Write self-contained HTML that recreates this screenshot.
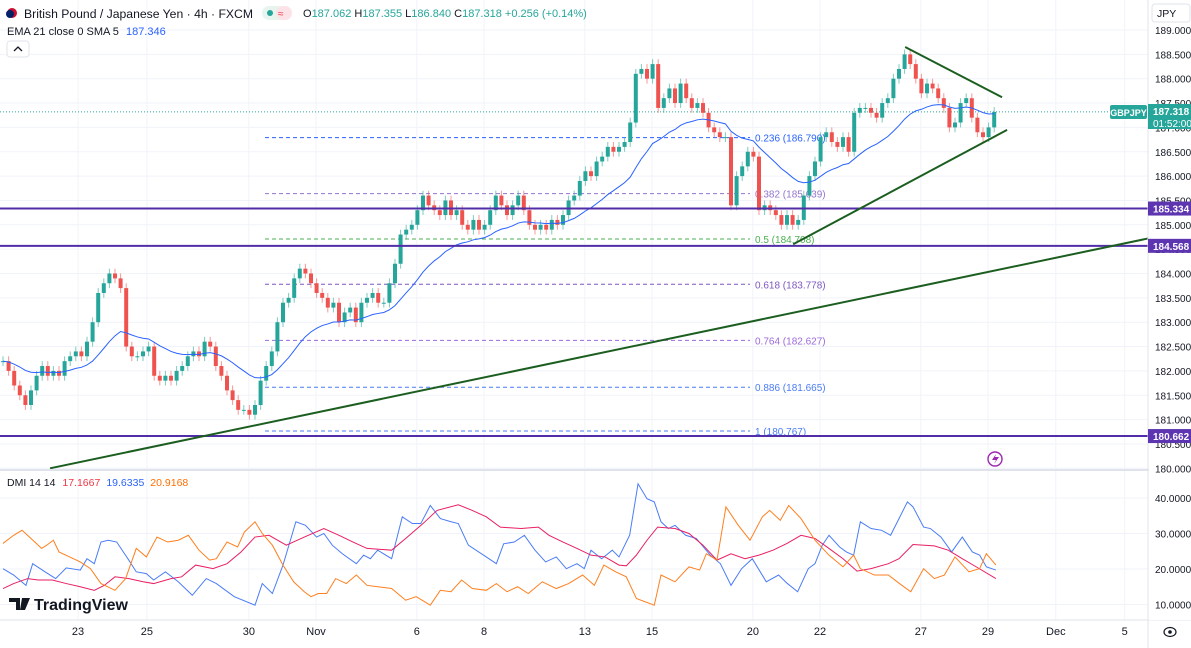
<!DOCTYPE html>
<html><head><meta charset="utf-8"><style>
body{margin:0;width:1191px;height:648px;overflow:hidden;background:#fff;font-family:"Liberation Sans",sans-serif;}
svg{position:absolute;left:0;top:0}
</style></head><body>
<svg id="c" width="1191" height="648" font-family="Liberation Sans, sans-serif"></svg>
<script>
// price closes, one per 4h bar
const closes=[182.2,182.0,181.7,181.5,181.3,181.6,181.9,182.1,181.9,182.0,181.9,182.2,182.3,182.4,182.3,182.6,183.0,183.6,183.8,184.0,183.9,183.7,182.5,182.3,182.3,182.4,182.5,181.9,181.8,181.9,181.8,182.0,182.1,182.3,182.4,182.3,182.6,182.5,182.1,181.9,181.6,181.4,181.2,181.2,181.1,181.3,181.8,182.1,182.4,183.0,183.4,183.5,183.9,184.1,184.0,183.8,183.6,183.5,183.3,183.4,183.0,183.2,183.3,183.0,183.4,183.5,183.6,183.4,183.4,183.8,184.2,184.8,184.9,185.0,185.3,185.6,185.4,185.3,185.2,185.5,185.2,185.3,185.0,184.9,185.1,184.9,185.0,185.3,185.6,185.4,185.2,185.4,185.6,185.3,185.0,184.9,185.0,184.9,185.1,185.0,185.2,185.5,185.6,185.9,186.1,186.0,186.3,186.4,186.6,186.5,186.6,186.7,187.1,188.1,188.2,188.0,188.3,187.4,187.6,187.8,187.5,187.9,187.6,187.4,187.5,187.3,187.0,186.9,186.8,186.8,185.4,186.0,186.2,186.5,186.4,185.3,185.4,185.3,185.2,185.0,185.2,185.0,185.1,185.6,186.0,186.3,186.8,186.9,186.7,186.6,186.8,186.5,187.3,187.4,187.4,187.3,187.2,187.5,187.6,188.0,188.2,188.5,188.3,188.0,187.7,187.9,187.8,187.6,187.4,187.0,187.1,187.5,187.6,187.2,186.9,186.8,187.0,187.318];
const priceTicks=[189,188.5,188,187.5,187,186.5,186,185.5,185,184.5,184,183.5,183,182.5,182,181.5,181,180.5,180];
const fibLevels=[0.236,0.382,0.5,0.618,0.764,0.886,1];
const fibPrices=[186.790,185.639,184.708,183.778,182.627,181.665,180.767];
const hLines=[185.334,184.568,180.662];
const dmiTicks=[40,30,20,10];
const dateLabels=["23","25","30","Nov","6","8","13","15","20","22","27","29","Dec","5"];
const dateBars=[13.4,25.7,43.9,55.9,73.9,85.9,103.9,115.9,133.9,145.9,163.9,175.9,188,200.3];
// DMI [bar, value]
const plusDI=[[0,20.1],[1.9,18.3],[4.1,15.4],[5.3,21.5],[7.5,19.2],[9.4,17.3],[11.3,20.3],[13.8,19.7],[15,22.9],[16.3,21.5],[17.5,27.6],[18.8,28.1],[20.3,27.6],[22.3,22.9],[23.8,19.2],[25.6,18.7],[26.9,16.9],[29,19.2],[31.3,16.4],[33.8,12.6],[36.3,17.3],[38.1,15.9],[41.3,12.2],[45,9.8],[46.3,15.9],[48.1,13.1],[50,21.1],[52.3,33.3],[54,32.3],[56,29],[57.3,30],[58.8,26.7],[60.6,24.3],[63.1,21.5],[64.4,23.9],[65.6,22.9],[66.9,25.3],[69.4,22.9],[71.3,34.7],[73.1,32.8],[74.6,32.8],[76.3,37.9],[78.1,34.2],[80,33.3],[81.3,32.8],[83.1,26.7],[86.3,23.4],[88.1,21.5],[89.4,27.1],[91.3,27.6],[93.1,29.5],[95,25.3],[96.9,22],[98.8,23.4],[100.6,20.1],[102.5,21.5],[103.8,20.1],[105,25.3],[106.9,22.9],[108.8,25.3],[110,23.4],[111.9,29.5],[113.4,44],[115,39.8],[116.3,38.9],[117.5,33.3],[118.8,31.4],[120,32.3],[121.9,29.5],[123.8,28.6],[126.3,23.9],[128.1,21.5],[130,15.4],[131.9,20.1],[133.8,22.9],[136.3,16.4],[138.5,18.3],[140,16],[141.9,13.6],[143.8,20.1],[145,21.5],[146.3,26.7],[147.5,29.5],[149.4,26.2],[150.6,24.8],[151.9,23.9],[153.1,33.3],[155,31.4],[156.9,30.9],[158.5,29.5],[160,34.2],[161.5,38.9],[162.5,37.5],[164.4,31.8],[165.6,31.4],[167.5,29],[169.4,24.8],[171.3,29],[173.1,24.8],[174.4,23.9],[175.6,20.6],[177.3,19.7]];
const adx=[[0,14.5],[1.9,15.9],[4.4,17.3],[6.3,16.9],[8.8,16.9],[11.3,15.9],[13.8,15],[16.3,14],[18.1,15.4],[20,17.8],[22.5,17.3],[25,16.4],[26.9,15.9],[30,17.3],[31.9,17.8],[34.4,21.1],[37.5,20.1],[40,21.5],[42.5,24.8],[45,29],[47.5,29.5],[50.6,26.7],[53.8,29],[57.3,31.4],[60,29.5],[62.5,27.6],[65,25.8],[69.4,25.3],[71.9,28.6],[75,32.8],[77.5,36.5],[81.3,38.1],[83.8,36.5],[86.3,34.7],[88.8,31.8],[92.5,31.4],[95.6,31.8],[97.5,29.5],[100,27.6],[102.5,25.8],[105,23.9],[107.5,23.4],[110,21.1],[111.3,20.9],[113.1,23.9],[115,28.1],[116.9,31.8],[120,31.4],[122.5,30],[125,26.7],[127.5,22.5],[130,24.3],[132.5,22.9],[135,23.9],[137.5,25.3],[140,27.2],[142.5,29.5],[145,28.6],[147.5,25.8],[150,22.9],[152.5,19.4],[155,20.1],[158.1,21.5],[160,22.9],[162.5,26.9],[166.3,26.5],[168.8,25.3],[171.3,22.9],[173.8,20.6],[177.3,17.3]];
const minusDI=[[0,27.2],[1.9,29.5],[3.4,30.9],[5,28.6],[6.9,25.8],[7.8,26.7],[9,28.1],[10,24.8],[11.9,23.4],[13.8,22],[15.6,20.1],[17.5,15.9],[20,14],[21.9,17.3],[23.8,25.8],[25.6,23.4],[27.5,29],[29.4,27.6],[31.3,28.1],[33.1,29.5],[35,25.3],[36.9,22.5],[38.1,22.9],[40,27.6],[41.9,26.2],[43.1,30.4],[45,33.3],[46.3,30],[48.1,26.7],[50,21.1],[51.9,16.4],[53.8,13.6],[55,12.2],[56.3,13.1],[57.8,13.1],[59.4,17.3],[61.3,15.9],[63.1,18.3],[65,15.4],[66.9,15],[69.4,14.5],[71.9,11.2],[73.8,12.2],[76.3,9.8],[78.1,14],[80,13.6],[81.9,16.9],[83.8,14.5],[86.3,14],[88.1,15.9],[90,13.6],[91.9,15],[93.8,13.1],[96.3,16.4],[98.8,14.5],[101,15.9],[103.5,18.3],[105.6,15.4],[107.3,21.1],[109.4,19.2],[111.3,17.8],[113.1,11.7],[116.3,9.8],[117.5,18.3],[120,16.4],[122.5,20.6],[124.4,19.7],[125.6,24.3],[127.5,22.5],[129.1,37.5],[131.3,32.3],[133.4,28.1],[135.6,34.7],[136.9,36.5],[138.8,33.7],[140.3,37.9],[142.5,34.2],[145,28.1],[147.5,23.9],[150,20.6],[151.9,23.9],[153.1,20.1],[155.6,18.3],[158.1,18.3],[160,16],[162.1,13.6],[164.4,20.1],[166.3,17.3],[168.1,18.3],[170,23.4],[172.5,19.2],[174.4,20.1],[175.6,24.3],[177.3,21.1]];
// trendlines [bar, price]
const trendA=[[8.4,180.0],[204.5,184.72]];
const trendB=[[141.1,184.6],[179.3,186.95]];
const trendC=[[161.1,188.65],[178.4,187.62]];

const S=document.getElementById('c');const NS='http://www.w3.org/2000/svg';
function el(t,a,p){const e=document.createElementNS(NS,t);for(const k in a)e.setAttribute(k,a[k]);(p||S).appendChild(e);return e;}
const X=b=>3+b*5.6;
const Y=p=>30+(189-p)*48.7;
const YD=v=>498+(40-v)*3.55;
const R=1148;
dateBars.forEach(b=>{const g=el('line',{x1:X(b),x2:X(b),y1:0,y2:620,stroke:'#f0f3fa'});});
priceTicks.forEach(p=>{const g=el('line',{x1:0,x2:R,y1:Y(p),y2:Y(p),stroke:'#f0f3fa'});});
dmiTicks.forEach(v=>{const g=el('line',{x1:0,x2:R,y1:YD(v),y2:YD(v),stroke:'#f0f3fa'});});
const fibCol=['#2962ff','#9575cd','#4caf50','#7e57c2','#9c6ade','#4a7cf7','#4a7cf7'];
fibLevels.forEach((f,i)=>{const y=Y(fibPrices[i]);
const l=el('line',{x1:265,x2:750,y1:y,y2:y,stroke:fibCol[i],'stroke-dasharray':'4 3','stroke-width':1});
const t=el('text',{x:755,y:y+4,'font-size':10,fill:fibCol[i]});t.textContent=f+' ('+fibPrices[i].toFixed(3)+')';});
{const y=Y(closes[closes.length-1]);const l=el('line',{x1:0,x2:R,y1:y,y2:y,stroke:'#26a69a','stroke-dasharray':'1 2'});}
closes.forEach((c,i)=>{const o=i?closes[i-1]:c;const up=c>=o;const col=up?'#26a69a':'#ef5350';const x=X(i);
const hi=Math.max(o,c)+0.1,lo=Math.min(o,c)-0.1;
const w=el('line',{x1:x,x2:x,y1:Y(hi),y2:Y(lo),stroke:col,'stroke-opacity':0.6});
const b=el('rect',{x:x-2,y:Y(Math.max(o,c)),width:4,height:Math.max(1,Math.abs(Y(o)-Y(c))),fill:col});});
{let e=closes[0];const k=2/22;const pts=closes.map((c,i)=>{e=i?c*k+e*(1-k):c;return X(i)+','+Y(e);});const p=el('polyline',{points:pts.join(' '),fill:'none',stroke:'#2962ff','stroke-width':1});}
hLines.forEach(h=>{const l=el('line',{x1:0,x2:R,y1:Y(h),y2:Y(h),stroke:'#512da8','stroke-width':2});});
[trendA,trendB,trendC].forEach(t=>{const l=el('line',{x1:X(t[0][0]),y1:Y(t[0][1]),x2:X(t[1][0]),y2:Y(t[1][1]),stroke:'#1b5e20','stroke-width':2});});
[[plusDI,'#4a7cf7','dmi-plus-line'],[adx,'#e91e63','adx-line'],[minusDI,'#ff7f1e','dmi-minus-line']].forEach(([d,c,n])=>{const p=el('polyline',{points:d.map(q=>X(q[0])+','+YD(q[1])).join(' '),fill:'none',stroke:c,'stroke-width':1});});
el('line',{x1:0,x2:1191,y1:470,y2:470,stroke:'#e0e3eb','stroke-width':2});
el('line',{x1:0,x2:1191,y1:620,y2:620,stroke:'#e0e3eb'});
el('line',{x1:R,x2:R,y1:0,y2:648,stroke:'#e0e3eb'});
el('rect',{x:R+1,y:0,width:42,height:620,fill:'#fff'});
priceTicks.forEach(p=>{const t=el('text',{x:1155,y:Y(p)+4,'font-size':10,fill:'#131722'});t.textContent=p.toFixed(3);});
dmiTicks.forEach(v=>{const t=el('text',{x:1155,y:YD(v)+4,'font-size':10,fill:'#131722'});t.textContent=v.toFixed(4);});
dateLabels.forEach((d,i)=>{const t=el('text',{x:X(dateBars[i]),y:635,'font-size':11,fill:'#131722','text-anchor':'middle'});t.textContent=d;});
hLines.forEach(h=>{const r=el('rect',{x:R,y:Y(h)-7,width:43,height:14,fill:'#5e35b1'});const t=el('text',{x:1153,y:Y(h)+4,'font-size':10,fill:'#fff','font-weight':'bold'});t.textContent=h.toFixed(3);});
</script>
<svg width="1191" height="648" style="pointer-events:none" font-family="Liberation Sans, sans-serif">
<g>
<rect x="1110" y="105" width="37" height="14" fill="#26a69a" rx="2"/><text x="1128.5" y="116" font-size="9" fill="#fff" text-anchor="middle" font-weight="bold">GBPJPY</text>
<rect x="1148" y="104" width="43" height="25" fill="#26a69a"/><text x="1153" y="115" font-size="10" fill="#fff" font-weight="bold">187.318</text><text x="1153" y="127" font-size="10" fill="#fff">01:52:00</text></g>
<g><rect x="1152" y="4" width="38" height="18" fill="#fff" stroke="#e0e3eb" rx="3"/><text x="1157" y="17" font-size="10.5" fill="#131722">JPY</text></g>
<g>
<circle cx="12" cy="13" r="5" fill="#c8102e"/><circle cx="10" cy="14" r="4" fill="#012169"/>
<text x="24" y="18" font-size="12.2" fill="#131722">British Pound / Japanese Yen · 4h · FXCM</text></g>
<g><rect x="262" y="6" width="30" height="14" rx="7" fill="#e8f5ef"/><circle cx="270" cy="13" r="3" fill="#26a69a"/><rect x="276" y="6" width="16" height="14" rx="7" fill="#fde3e8"/><text x="278" y="17" font-size="10" fill="#f23645">≈</text></g>
<text x="303" y="17" font-size="11" fill="#26a69a"><tspan fill="#131722">O</tspan>187.062 <tspan fill="#131722">H</tspan>187.355 <tspan fill="#131722">L</tspan>186.840 <tspan fill="#131722">C</tspan>187.318 +0.256 (+0.14%)</text>
<text x="7" y="35" font-size="11" fill="#131722">EMA 21 close 0 SMA 5 <tspan fill="#2962ff" dx="4">187.346</tspan></text>
<g><rect x="7" y="41" width="22" height="16" rx="3" fill="#fff" stroke="#e0e3eb"/><path d="M14 51 L18 47 L22 51" stroke="#131722" fill="none" stroke-width="1.3"/></g>
<text x="7" y="486" font-size="10.5" fill="#131722">DMI 14 14 <tspan fill="#f23645" dx="4">17.1667</tspan><tspan fill="#2962ff" dx="6">19.6335</tspan><tspan fill="#ff6d00" dx="6">20.9168</tspan></text>
<g><path d="M9 598 h11 v12 h-4 v-8 h-7z M22 598 h8 l-5 12 h-5z" fill="#131722"/><text x="34" y="610" font-size="16" fill="#131722" font-weight="bold">TradingView</text></g>
<g><circle cx="995" cy="459" r="7" fill="none" stroke="#9c27b0" stroke-width="1.4"/><path d="M996 454 L992 460 H996 L994 464 L999 457 H995z" fill="#9c27b0"/></g>
<g><ellipse cx="1170" cy="632" rx="6" ry="4.5" fill="none" stroke="#131722" stroke-width="1.2"/><circle cx="1170" cy="632" r="1.8" fill="#131722"/></g>
</svg>
</body></html>
